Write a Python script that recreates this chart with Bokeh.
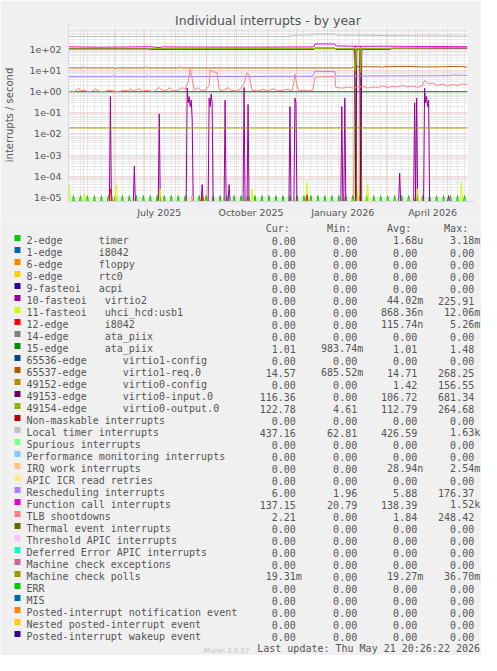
import math
from datetime import date, timedelta
import numpy as np
from bokeh.plotting import figure
from bokeh.layouts import column
from bokeh.models import (Range1d, FixedTicker, Label, Arrow, NormalHead,
                          CustomJSTickFormatter)
from bokeh.core.properties import value
from bokeh.embed import file_html
from bokeh.resources import INLINE

# ---------------------------------------------------------------- data
START = date(2025, 4, 16)
END = date(2026, 5, 21)
NDAYS = (END - START).days  # one pixel per day, 400 days

TITLE = "Individual interrupts - by year"
Y_LABEL = "interrupts / second"
SIDE_TEXT = "RRDTOOL / TOBI OETIKER"
LAST_UPDATE = "Last update: Thu May 21 20:26:22 2026"
FOOTER = "Munin 2.0.57"

MONTH_LABELS = ["July 2025", "October 2025", "January 2026", "April 2026"]
MONTH_LABEL_DATES = [date(2025, 7, 16), date(2025, 10, 16), date(2026, 1, 16), date(2026, 4, 16)]

HEADERS = ["Cur:", "Min:", "Avg:", "Max:"]

LEGEND_NAMES = [
    "2-edge      timer",
    "1-edge      i8042",
    "6-edge      floppy",
    "8-edge      rtc0",
    "9-fasteoi   acpi",
    "10-fasteoi   virtio2",
    "11-fasteoi   uhci_hcd:usb1",
    "12-edge      i8042",
    "14-edge      ata_piix",
    "15-edge      ata_piix",
    "65536-edge      virtio1-config",
    "65537-edge      virtio1-req.0",
    "49152-edge      virtio0-config",
    "49153-edge      virtio0-input.0",
    "49154-edge      virtio0-output.0",
    "Non-maskable interrupts",
    "Local timer interrupts",
    "Spurious interrupts",
    "Performance monitoring interrupts",
    "IRQ work interrupts",
    "APIC ICR read retries",
    "Rescheduling interrupts",
    "Function call interrupts",
    "TLB shootdowns",
    "Thermal event interrupts",
    "Threshold APIC interrupts",
    "Deferred Error APIC interrupts",
    "Machine check exceptions",
    "Machine check polls",
    "ERR",
    "MIS",
    "Posted-interrupt notification event",
    "Nested posted-interrupt event",
    "Posted-interrupt wakeup event",
]
COLORS = [
    "#00CC00", "#0066B3", "#FF8000", "#FFCC00", "#330099", "#990099", "#CCFF00",
    "#FF0000", "#808080", "#008F00", "#00487D", "#B35A00", "#B38F00", "#6B006B",
    "#8FB300", "#B30000", "#BEBEBE", "#80FF80", "#80C9FF", "#FFC080", "#FFE680",
    "#AA80FF", "#EE00CC", "#FF8080", "#666600", "#FFBFFF", "#00FFCC", "#CC6699",
    "#999900", "#00CC00", "#0066B3", "#FF8000", "#FFCC00", "#330099",
]
CUR = ["0.00", "0.00", "0.00", "0.00", "0.00", "0.00", "0.00", "0.00", "0.00", "1.01",
       "0.00", "14.57", "0.00", "116.36", "122.78", "0.00", "437.16", "0.00", "0.00", "0.00",
       "0.00", "6.00", "137.15", "2.21", "0.00", "0.00", "0.00", "0.00", "19.31m", "0.00",
       "0.00", "0.00", "0.00", "0.00"]
MIN = ["0.00", "0.00", "0.00", "0.00", "0.00", "0.00", "0.00", "0.00", "0.00", "983.74m",
       "0.00", "685.52m", "0.00", "0.00", "4.61", "0.00", "62.81", "0.00", "0.00", "0.00",
       "0.00", "1.96", "20.79", "0.00", "0.00", "0.00", "0.00", "0.00", "0.00", "0.00",
       "0.00", "0.00", "0.00", "0.00"]
AVG = ["1.68u", "0.00", "0.00", "0.00", "0.00", "44.02m", "868.36n", "115.74n", "0.00", "1.01",
       "0.00", "14.71", "1.42", "106.72", "112.79", "0.00", "426.59", "0.00", "0.00", "28.94n",
       "0.00", "5.88", "138.39", "1.84", "0.00", "0.00", "0.00", "0.00", "19.27m", "0.00",
       "0.00", "0.00", "0.00", "0.00"]
MAX = ["3.18m", "0.00", "0.00", "0.00", "0.00", "225.91", "12.06m", "5.26m", "0.00", "1.48",
       "0.00", "268.25", "156.55", "681.34", "264.68", "0.00", "1.63k", "0.00", "0.00", "2.54m",
       "0.00", "176.37", "1.52k", "248.42", "0.00", "0.00", "0.00", "0.00", "36.70m", "0.00",
       "0.00", "0.00", "0.00", "0.00"]

# day index = days since START; spikes are single-day values, 0 elsewhere
TIMER_DAYS = [5, 12, 19, 26, 33, 40, 47, 54, 61, 68, 75, 82, 89, 96, 103, 110, 117, 124,
              131, 138, 145, 152, 159, 166, 173, 180, 187, 194, 201, 208, 215, 222, 229,
              236, 243, 250, 257, 264, 271, 278, 285, 292, 299, 306, 313, 320, 327, 334,
              341, 348, 355, 362, 369, 376, 383, 390, 397]
TIMER_VALS = [1.2e-5] * len(TIMER_DAYS)

VIRTIO2_DAYS = [42, 66, 91, 119, 120, 121, 122, 123, 124, 134, 141, 142, 143, 144, 157, 161,
                176, 180, 222, 227, 228, 274, 277, 332, 347, 349, 357, 358, 359, 360, 361, 381]
VIRTIO2_VALS = [0.6, 3e-4, 0.09, 1.5, 0.3, 0.6, 0.2, 0.4, 0.05, 4e-5, 0.5, 0.2, 0.8, 0.3, 0.4,
                4e-5, 1.6, 0.25, 0.2, 0.5, 0.3, 0.2, 0.5, 1.4e-4, 0.3, 0.5, 1.5, 0.3, 0.6,
                0.2, 0.4, 1.2e-5]

USB_DAYS = [1, 16, 48, 92, 184, 239, 289, 300, 350, 394]
USB_VALS = [4e-5, 1.5e-5, 4e-5, 2.5e-5, 2.5e-5, 5e-5, 2.5e-5, 4e-5, 2.5e-5, 5e-5]

I8042_DAYS = [42, 43, 134, 239]
I8042_VALS = [2.5e-5, 1.5e-5, 1.2e-5, 1.3e-5]

IRQW_DAYS = [124, 290]
IRQW_VALS = [1.2e-5, 1.2e-5]

CONFIG_DAYS = [287, 288, 293]
CONFIG_VALS = [150.0, 156.0, 140.0]

ATA_DAYS = [0, 400]
ATA_VALS = [1.01, 1.01]

MCP_DAYS = [0, 400]
MCP_VALS = [0.0193, 0.0193]

REQ_DAYS = [0, 15, 16, 17, 46, 47, 48, 76, 77, 78, 110, 111, 112, 200, 284, 286, 313,
            314, 315, 340, 355, 375, 392, 400]
REQ_VALS = [13.5, 13.5, 15.0, 13.5, 13.5, 12.0, 13.5, 13.5, 15.0, 13.5, 13.5, 15.0, 13.5,
            13.5, 13.5, 15.3, 15.3, 13.5, 15.3, 16.0, 15.0, 15.3, 16.0, 14.6]

INPUT_DAYS = [0, 80, 82, 246, 247, 267, 268, 287, 288, 289, 292, 293, 294, 323, 324, 400]
INPUT_VALS = [110, 110, 104, 104, 118, 118, 104, 104, 0, 104, 104, 0, 104, 104, 116, 116.4]

OUTPUT_DAYS = [0, 80, 82, 286, 287, 288, 289, 292, 293, 294, 400]
OUTPUT_VALS = [108, 108, 112, 112, 10, 10, 112, 112, 8, 112, 122.8]

LOCAL_DAYS = [0, 120, 222, 224, 246, 248, 267, 269, 300, 350, 400]
LOCAL_VALS = [415, 420, 420, 480, 500, 540, 540, 490, 470, 450, 437]

RESCHED_DAYS = [0, 44, 45, 46, 79, 80, 81, 150, 245, 247, 256, 267, 268, 300, 380, 385, 400]
RESCHED_VALS = [5.2, 5.2, 6.0, 5.2, 5.2, 6.0, 5.2, 5.3, 5.4, 9.5, 9.2, 9.0, 5.6, 5.6, 5.8,
                6.2, 6.0]

FUNC_DAYS = [0, 30, 60, 80, 92, 94, 120, 200, 246, 247, 267, 268, 290, 320, 360, 400]
FUNC_VALS = [135, 130, 133, 137, 125, 134, 132, 131, 134, 185, 185, 150, 143, 145, 140, 137]

TLB_DAYS = [0, 3, 6, 10, 12, 16, 20, 24, 27, 30, 35, 40, 45, 50, 55, 60, 62, 65, 71, 74, 80,
            85, 91, 94, 100, 101, 104, 110, 114, 117, 120, 122, 124, 126, 130, 133, 138, 141,
            142, 145, 149, 151, 155, 160, 162, 168, 172, 176, 179, 181, 184, 190, 195, 200,
            205, 210, 215, 220, 224, 226, 227, 229, 231, 236, 241, 245, 247, 255, 260, 267,
            268, 275, 280, 285, 290, 295, 300, 305, 310, 315, 320, 325, 330, 335, 340, 345,
            350, 355, 357, 359, 362, 365, 370, 375, 380, 385, 390, 395, 400]
TLB_VALS = [0.9, 1.1, 1.0, 1.5, 1.1, 1.2, 1.0, 1.1, 1.4, 1.1, 1.0, 1.2, 1.1, 1.0, 1.2, 1.1,
            1.4, 1.1, 1.4, 1.1, 1.2, 1.0, 1.6, 1.1, 1.3, 1.6, 1.1, 1.2, 1.6, 1.3, 3.0, 12.0,
            4.0, 1.2, 1.6, 1.1, 1.3, 2.0, 11.0, 9.0, 8.0, 1.3, 1.1, 1.6, 1.2, 1.1, 1.3, 2.5,
            8.0, 6.0, 1.2, 1.1, 1.3, 1.1, 1.4, 1.1, 1.2, 1.3, 1.1, 3.0, 7.0, 2.0, 1.1, 1.2,
            1.1, 1.2, 5.0, 5.3, 5.2, 5.4, 1.6, 1.5, 1.7, 1.5, 1.6, 1.8, 1.5, 1.7, 1.6, 1.9,
            1.6, 1.8, 1.7, 2.0, 1.7, 1.9, 1.6, 2.0, 3.5, 2.8, 2.3, 2.6, 2.0, 2.3, 1.9, 2.2,
            2.0, 2.4, 2.2]

# ---------------------------------------------------------------- layout constants
W = 481
HA = 220
HB = 435
YLOG_MIN, YLOG_MAX = -5.2, 3.0
YMIN, YMAX = 10 ** YLOG_MIN, 10 ** YLOG_MAX
FRAME_H = 175
PX_PER_DEC = FRAME_H / (YLOG_MAX - YLOG_MIN)
TXT = "#555555"
AXIS_COL = "#CFD6F8"
BG = "#F0F0F0"


def spikes(days, vals):
    arr = np.zeros(NDAYS + 1)
    arr[np.array(days)] = vals
    return np.arange(NDAYS + 1), arr


SERIES = {
    0: spikes(TIMER_DAYS, TIMER_VALS),
    5: spikes(VIRTIO2_DAYS, VIRTIO2_VALS),
    6: spikes(USB_DAYS, USB_VALS),
    7: spikes(I8042_DAYS, I8042_VALS),
    9: (ATA_DAYS, ATA_VALS),
    11: (REQ_DAYS, REQ_VALS),
    12: spikes(CONFIG_DAYS, CONFIG_VALS),
    13: (INPUT_DAYS, INPUT_VALS),
    14: (OUTPUT_DAYS, OUTPUT_VALS),
    16: (LOCAL_DAYS, LOCAL_VALS),
    19: spikes(IRQW_DAYS, IRQW_VALS),
    21: (RESCHED_DAYS, RESCHED_VALS),
    22: (FUNC_DAYS, FUNC_VALS),
    23: (TLB_DAYS, TLB_VALS),
    28: (MCP_DAYS, MCP_VALS),
}

# ---------------------------------------------------------------- chart
p = figure(width=W, height=HA, x_range=Range1d(0, NDAYS), y_range=Range1d(YMIN, YMAX),
           y_axis_type="log", output_backend="svg", toolbar_location=None,
           min_border_left=67, min_border_right=14, min_border_top=28, min_border_bottom=17,
           background_fill_color="#FFFFFF", border_fill_color=BG, outline_line_color=None)
p.frame_align = False

p.title.text = TITLE
p.title.align = "center"
p.title.offset = -19
p.title.standoff = 2
p.title.text_font = "DejaVu Sans"
p.title.text_font_size = "12.5px"
p.title.text_font_style = "normal"
p.title.text_color = TXT

# x axis: labels mid-month, grid at month starts (major) and Mondays (minor)
label_days = [(d - START).days for d in MONTH_LABEL_DATES]
month_starts = []
y_, m_ = START.year, START.month
while True:
    m_ += 1
    if m_ > 12:
        m_, y_ = 1, y_ + 1
    dd = date(y_, m_, 1)
    if dd > END:
        break
    month_starts.append((dd - START).days)
mondays = []
dd = START
while dd <= END:
    if dd.weekday() == 0:
        mondays.append((dd - START).days)
    dd += timedelta(days=1)

p.xaxis.ticker = FixedTicker(ticks=label_days, minor_ticks=[])
p.xaxis.major_label_overrides = {k: v for k, v in zip(label_days, MONTH_LABELS)}
p.xgrid.ticker = FixedTicker(ticks=month_starts, minor_ticks=mondays)

decades = [10.0 ** k for k in range(-5, 3)]
minors = [m * 10.0 ** k for k in range(-6, 3) for m in range(2, 10)
          if YMIN <= m * 10.0 ** k <= YMAX]
p.yaxis.ticker = FixedTicker(ticks=decades, minor_ticks=minors)
p.yaxis.formatter = CustomJSTickFormatter(code="""
    const e = Math.round(Math.log10(tick));
    const a = Math.abs(e);
    return "1e" + (e < 0 ? "-" : "+") + (a < 10 ? "0" + a : "" + a);
""")
p.yaxis.axis_label = Y_LABEL
p.yaxis.axis_label_standoff = 12
p.yaxis.axis_label_text_font = "DejaVu Sans"
p.yaxis.axis_label_text_font_size = "10px"
p.yaxis.axis_label_text_font_style = "normal"
p.yaxis.axis_label_text_color = TXT

for ax in (p.xaxis, p.yaxis):
    ax.axis_line_color = AXIS_COL
    ax.major_tick_out = 0
    ax.major_tick_in = 0
    ax.minor_tick_out = 0
    ax.minor_tick_in = 0
    ax.major_label_text_font = "DejaVu Sans"
    ax.major_label_text_font_size = "9.5px"
    ax.major_label_text_color = TXT
p.yaxis.major_label_standoff = 7
p.xaxis.major_label_standoff = 5

for g in (p.xgrid, p.ygrid):
    g.grid_line_color = "#F2B0B0"
    g.grid_line_dash = "1 1"
    g.minor_grid_line_color = "#D6D6D6"
    g.minor_grid_line_dash = "1 1"

for i, name in enumerate(LEGEND_NAMES):
    xs, ys = SERIES.get(i, ([0, NDAYS], [0.0, 0.0]))
    ys = np.maximum(np.asarray(ys, dtype=float), YMIN)
    p.line(list(xs), list(ys), line_color=COLORS[i], line_width=1, line_join="round")

# axis arrows
p.add_layout(Arrow(end=NormalHead(size=5, fill_color=AXIS_COL, line_color=AXIS_COL),
                   line_color=AXIS_COL, x_start=0, x_end=0,
                   y_start=YMAX, y_end=10 ** (YLOG_MAX + 6 / PX_PER_DEC)))
p.add_layout(Arrow(end=NormalHead(size=5, fill_color=AXIS_COL, line_color=AXIS_COL),
                   line_color=AXIS_COL, x_start=NDAYS, x_end=NDAYS + 7,
                   y_start=YMIN, y_end=YMIN))

p.add_layout(Label(x=NDAYS + 9, y=10 ** (YLOG_MAX + 23 / PX_PER_DEC), text=SIDE_TEXT,
                   angle=-math.pi / 2, text_align="left", text_baseline="middle",
                   text_font="DejaVu Sans", text_font_size="8px", text_color="#C0C0C0"))

# ---------------------------------------------------------------- legend
q = figure(width=W, height=HB, x_range=Range1d(0, W), y_range=Range1d(HB, 0),
           x_axis_location=None, y_axis_location=None, min_border=0,
           output_backend="svg", toolbar_location=None,
           background_fill_color=BG, border_fill_color=BG, outline_line_color=None)
q.frame_align = False
q.grid.visible = False

CW = 6.02          # monospace advance at 10px
ROW0 = 20.2        # baseline of first row
ROW_H = 12
NAME_X = 26
COL_RIGHT = [295.3, 356.7, 416.7, 473.7]
mono = value("DejaVu Sans Mono")
fs = value("10px")

n = len(LEGEND_NAMES)
base = [ROW0 + ROW_H * i for i in range(n)]
q.quad(left=[14] * n, right=[20] * n, top=[b - 5.6 for b in base], bottom=[b + 0.4 for b in base],
       fill_color=COLORS, line_color=None)

tx, ty, tt = [], [], []
for i, name in enumerate(LEGEND_NAMES):
    first = name.split("  ")[0]
    tx.append(NAME_X); ty.append(base[i]); tt.append(first)
    rest = name[len(first):]
    if rest.strip():
        col = len(name) - len(rest.lstrip())
        tx.append(NAME_X + col * CW); ty.append(base[i]); tt.append(rest.strip())
q.text(x=tx, y=ty, text=tt, text_font=mono, text_font_size=fs, text_color=TXT,
       text_baseline="alphabetic", text_align="left")

vx, vy, vt = [], [], []
for c, vals in enumerate((CUR, MIN, AVG, MAX)):
    for i, s in enumerate(vals):
        extra = CW if s[-1].isalpha() else 0
        vx.append(COL_RIGHT[c] + extra); vy.append(base[i]); vt.append(s)
    vx.append(COL_RIGHT[c] - CW); vy.append(ROW0 - ROW_H); vt.append(HEADERS[c])
q.text(x=vx, y=vy, text=vt, text_font=mono, text_font_size=fs, text_color=TXT,
       text_baseline="alphabetic", text_align="right")

q.text(x=[479.5], y=[ROW0 + ROW_H * n], text=[LAST_UPDATE], text_font=mono, text_font_size=fs,
       text_color=TXT, text_baseline="alphabetic", text_align="right")
q.text(x=[226], y=[430.0], text=[FOOTER], text_font=value("DejaVu Sans"),
       text_font_size=value("7px"), text_color="#C0C0C0",
       text_baseline="alphabetic", text_align="center")

layout = column(p, q, spacing=0)
open("out.html", "w").write(file_html(layout, INLINE))
